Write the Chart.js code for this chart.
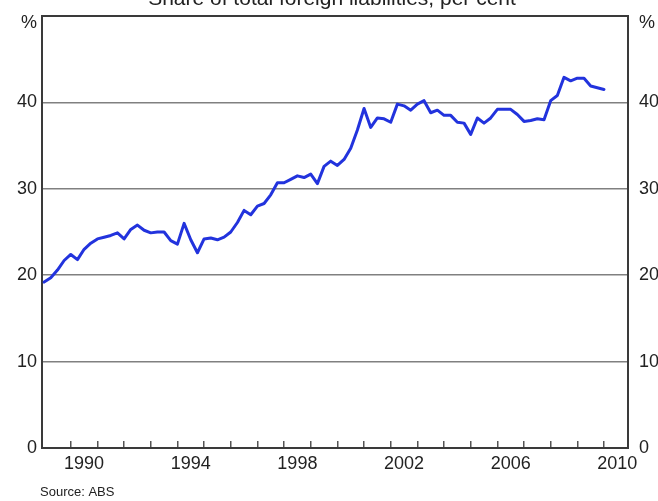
<!DOCTYPE html>
<html>
<head>
<meta charset="utf-8">
<script src="https://cdn.jsdelivr.net/npm/chart.js@4.4.1/dist/chart.umd.min.js"></script>
<style>
  html, body { margin: 0; padding: 0; background: #ffffff; }
  #wrap { width: 658px; height: 501px; position: relative; }
</style>
</head>
<body>
<div id="wrap"><canvas id="c"></canvas></div>
<script>
// ---- Data (quarterly, Dec 1988 to Dec 2009) ----
const firstQuarterEnd = 1989.0;   // Dec quarter 1988 (year-fraction of quarter end)
const foreignShare = [
  19.2, 19.7, 20.6, 21.7, 22.4, 21.8, 23.0, 23.7, 24.2, 24.4,
  24.6, 24.9, 24.2, 25.3, 25.8, 25.2, 24.9, 25.0, 25.0, 24.0,
  23.6, 26.0, 24.1, 22.6, 24.2, 24.3, 24.1, 24.4, 25.0, 26.1,
  27.5, 27.0, 28.0, 28.3, 29.3, 30.7, 30.7, 31.1, 31.5, 31.3,
  31.7, 30.6, 32.6, 33.2, 32.7, 33.4, 34.7, 36.8, 39.3, 37.1,
  38.2, 38.1, 37.7, 39.8, 39.6, 39.1, 39.8, 40.2, 38.8, 39.1,
  38.5, 38.5, 37.7, 37.6, 36.3, 38.2, 37.6, 38.2, 39.2, 39.2,
  39.2, 38.6, 37.8, 37.9, 38.1, 38.0, 40.2, 40.8, 42.9, 42.5,
  42.8, 42.8, 41.9, 41.7, 41.5
];
const yearTicks = [1990, 1991, 1992, 1993, 1994, 1995, 1996, 1997, 1998, 1999,
                   2000, 2001, 2002, 2003, 2004, 2005, 2006, 2007, 2008, 2009, 2010];
const yearLabels = ['1990', '1994', '1998', '2002', '2006', '2010'];
const yTicks = [0, 10, 20, 30, 40, 50];
const unitLabel = '%';
const titleText = 'Share of total foreign liabilities, per cent';
const sourceText = 'Source: ABS';

const points = foreignShare.map((v, i) => ({ x: firstQuarterEnd + i / 4, y: v }));

const FONT = '"Liberation Sans", Arial, Helvetica, sans-serif';
const FRAME = '#3a3a3a';
const GRID = '#808080';

const textPlugin = {
  id: 'texts',
  afterDraw(chart) {
    const ctx = chart.ctx;
    ctx.save();
    ctx.fillStyle = '#222';
    ctx.font = '21px ' + FONT;
    ctx.textAlign = 'center';
    ctx.textBaseline = 'alphabetic';
    ctx.fillText(titleText, 332, 5);
    ctx.font = '13px ' + FONT;
    ctx.textAlign = 'left';
    ctx.textBaseline = 'middle';
    ctx.fillText(sourceText, 40, 492);
    ctx.restore();
  }
};

// the unit label sits a little below the top tick (second line of a two-line label)
const yTickLabel = v => (v === 50 ? ['', unitLabel] : String(v));

new Chart(document.getElementById('c'), {
  type: 'line',
  data: {
    datasets: [{
      data: points,
      borderColor: '#2233dd',
      borderWidth: 3,
      pointRadius: 0,
      tension: 0,
      fill: false,
      borderJoinStyle: 'round',
      borderCapStyle: 'round'
    }]
  },
  options: {
    responsive: true,
    maintainAspectRatio: false,
    animation: false,
    layout: { padding: { top: 16, left: 0, right: 0, bottom: 0 } },
    plugins: { legend: { display: false }, tooltip: { enabled: false }, title: { display: false } },
    scales: {
      x: {
        type: 'linear',
        position: 'bottom',
        min: 1988.92,
        max: 2010.9,
        afterBuildTicks: s => { s.ticks = yearTicks.map(v => ({ value: v })); },
        afterFit: s => { s.height = 53; s.paddingLeft = 0; s.paddingRight = 0; },
        border: { display: true, color: FRAME, width: 2 },
        grid: { drawOnChartArea: false, drawTicks: true, tickLength: -7, color: '#555', lineWidth: 1.5 },
        ticks: {
          autoSkip: false,
          maxRotation: 0,
          padding: 12,
          labelOffset: 13.3,
          color: '#222',
          font: { family: FONT, size: 18 },
          callback: v => (yearLabels.includes(String(v)) ? String(v) : '')
        }
      },
      y: {
        position: 'left',
        min: 0,
        max: 50,
        afterBuildTicks: s => { s.ticks = yTicks.map(v => ({ value: v })); },
        afterFit: s => { s.width = 42; s.paddingTop = 0; s.paddingBottom = 0; },
        border: { display: true, color: FRAME, width: 2 },
        grid: {
          drawTicks: false,
          color: c => (c.tick.value === 50 || c.tick.value === 0 ? FRAME : GRID),
          lineWidth: c => (c.tick.value === 50 || c.tick.value === 0 ? 2 : 1.5)
        },
        ticks: { padding: 5, color: '#222', font: { family: FONT, size: 18, lineHeight: 0.75 }, callback: yTickLabel }
      },
      y2: {
        position: 'right',
        min: 0,
        max: 50,
        afterBuildTicks: s => { s.ticks = yTicks.map(v => ({ value: v })); },
        afterFit: s => { s.width = 30; s.paddingTop = 0; s.paddingBottom = 0; },
        border: { display: true, color: FRAME, width: 2 },
        grid: { drawOnChartArea: false, drawTicks: false },
        ticks: { padding: 11, color: '#222', font: { family: FONT, size: 18, lineHeight: 0.75 }, callback: yTickLabel }
      }
    }
  },
  plugins: [textPlugin]
});
</script>
</body>
</html>
